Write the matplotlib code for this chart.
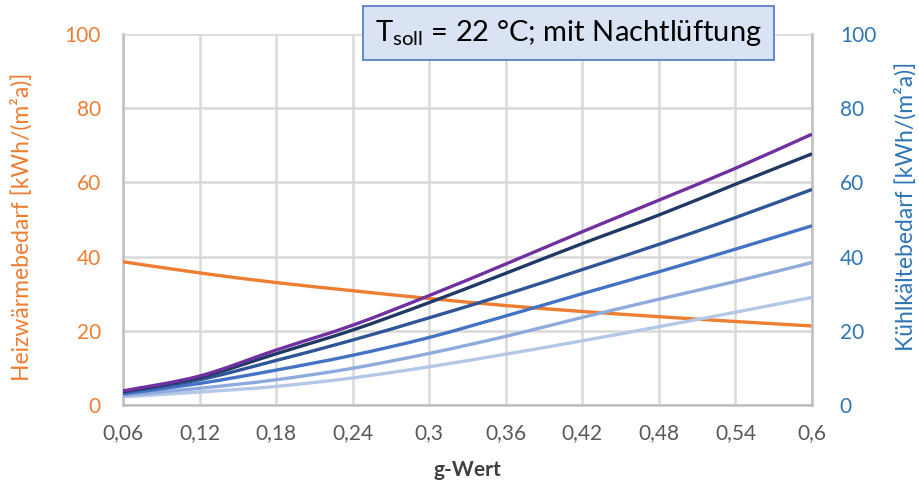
import matplotlib
matplotlib.use('Agg')
import matplotlib.pyplot as plt
from matplotlib.path import Path
from matplotlib.patches import PathPatch
import numpy as np

plt.rcParams['font.family'] = ['Lato', 'DejaVu Sans']

# Daten
g_wert = [0.06, 0.12, 0.18, 0.24, 0.30, 0.36, 0.42, 0.48, 0.54, 0.60]
g_labels = ['0,06', '0,12', '0,18', '0,24', '0,3', '0,36', '0,42', '0,48', '0,54', '0,6']
heizwaerme = [38.6, 35.6, 33.0, 30.8, 28.7, 26.8, 25.2, 23.8, 22.5, 21.3]
kuehl_1 = [3.8, 7.8, 14.8, 21.5, 29.5, 38.0, 46.7, 55.2, 63.8, 73.0]
kuehl_2 = [3.6, 7.4, 13.8, 20.2, 27.6, 35.5, 43.5, 51.2, 59.5, 67.7]
kuehl_3 = [3.4, 6.8, 12.0, 17.5, 23.5, 29.8, 36.5, 43.3, 50.5, 58.1]
kuehl_4 = [3.0, 5.8, 9.4, 13.4, 18.2, 24.0, 30.0, 35.9, 42.0, 48.3]
kuehl_5 = [2.6, 4.5, 6.8, 9.9, 13.9, 18.5, 23.6, 28.5, 33.3, 38.4]
kuehl_6 = [2.2, 3.5, 5.0, 7.3, 10.3, 13.7, 17.3, 21.1, 25.0, 29.0]

kuehl_reihen = [kuehl_6, kuehl_5, kuehl_4, kuehl_3, kuehl_2, kuehl_1]
kuehl_farben = ['#b4c7e7', '#8faadc', '#4472c4', '#2f5597', '#203864', '#7030a0']

orange = '#ed7d31'
blau = '#2e75b6'
grau = '#d9d9d9'


def glatte_linie(ax, x, y, farbe, zorder=3):
    # geglättete Linie wie in Excel (Bezier durch die Datenpunkte)
    x = np.asarray(x, dtype=float)
    y = np.asarray(y, dtype=float)
    n = len(x)
    verts = [(x[0], y[0])]
    codes = [Path.MOVETO]
    for i in range(n - 1):
        i0 = max(i - 1, 0)
        i3 = min(i + 2, n - 1)
        c1 = (x[i] + (x[i + 1] - x[i0]) / 6, y[i] + (y[i + 1] - y[i0]) / 6)
        c2 = (x[i + 1] - (x[i3] - x[i]) / 6, y[i + 1] - (y[i3] - y[i]) / 6)
        verts += [c1, c2, (x[i + 1], y[i + 1])]
        codes += [Path.CURVE4] * 3
    patch = PathPatch(Path(verts, codes), facecolor='none', edgecolor=farbe,
                      linewidth=2.4, capstyle='butt', zorder=zorder)
    ax.add_patch(patch)


fig = plt.figure(figsize=(9.2, 4.91), dpi=100)
ax = fig.add_axes([0.1337, 0.1752, 0.7489, 0.7556])
ax2 = ax.twinx()

# Linien
glatte_linie(ax, g_wert, heizwaerme, orange)
for werte, farbe in zip(kuehl_reihen, kuehl_farben):
    glatte_linie(ax2, g_wert, werte, farbe)

for a in (ax, ax2):
    a.set_ylim(0, 100)
    a.set_yticks(np.arange(0, 101, 20))
    a.set_xlim(0.06, 0.6)
    for s in a.spines.values():
        s.set_visible(False)

ax.set_xticks(g_wert)
ax.set_xticklabels(g_labels)
ax.grid(True, color=grau, linewidth=1.8)
ax.set_axisbelow(True)
ax.spines['left'].set_visible(True)
ax.spines['left'].set_color('#bfbfbf')
ax.spines['left'].set_linewidth(1.8)
ax.spines['bottom'].set_visible(True)
ax.spines['bottom'].set_color('#bfbfbf')
ax.spines['bottom'].set_linewidth(1.8)
ax2.spines['right'].set_visible(True)
ax2.spines['right'].set_color('#bfbfbf')
ax2.spines['right'].set_linewidth(1.8)

ax.tick_params(axis='x', length=0, pad=13, labelsize=15, labelcolor='#595959')
ax.tick_params(axis='y', length=0, pad=16, labelsize=15, labelcolor=orange)
ax2.tick_params(axis='y', length=0, pad=20, labelsize=15, labelcolor=blau)

ax.set_xlabel('g-Wert', fontsize=15, fontweight='bold', color='#404040', labelpad=12)
ax.set_ylabel('Heizwärmebedarf [kWh/(m²a)]', fontsize=16.5, color=orange,
              va='center')
ax2.set_ylabel('Kühlkältebedarf [kWh/(m²a)]', fontsize=16.5, color=blau,
               va='center')
ax.yaxis.set_label_coords(-0.147, 0.48)
ax2.yaxis.set_label_coords(1.135, 0.535)

# Titelkasten
fig.text(0.618, 0.933, r'T$_{\mathregular{soll}}$ = 22 °C; mit Nachtlüftung',
         fontsize=21, ha='center', va='center', color='black',
         bbox=dict(boxstyle='square,pad=0.4', facecolor='#dae3f3',
                   edgecolor='#5b7fc7', linewidth=1.3))

plt.savefig('out.png', dpi=100)
